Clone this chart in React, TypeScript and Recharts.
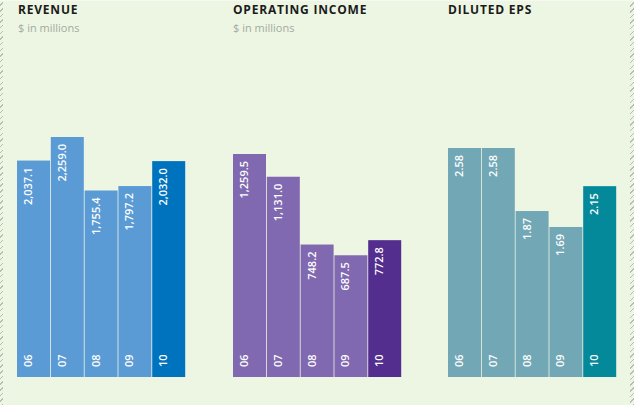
import React from 'react'
import { BarChart, Bar, XAxis, YAxis, Cell, LabelList } from 'recharts'

const years = ['06', '07', '08', '09', '10']
const revenue = [2037.1, 2259.0, 1755.4, 1797.2, 2032.0]
const revenueLabels = ['2,037.1', '2,259.0', '1,755.4', '1,797.2', '2,032.0']
const operatingIncome = [1259.5, 1131.0, 748.2, 687.5, 772.8]
const operatingLabels = ['1,259.5', '1,131.0', '748.2', '687.5', '772.8']
const dilutedEps = [2.58, 2.58, 1.87, 1.69, 2.15]
const epsLabels = ['2.58', '2.58', '1.87', '1.69', '2.15']

const FONT = '"Open Sans", "Noto Sans", sans-serif'

interface PanelProps {
  values: number[]
  labels: string[]
  base: string
  highlight: string
  left: number
  top: number
  height: number
}

function ValueLabel(props: any) {
  const { x, y, value } = props
  const tx = x + 15
  const ty = y + 7
  return (
    <text
      x={tx}
      y={ty}
      transform={`rotate(-90, ${tx}, ${ty})`}
      textAnchor="end"
      fill="#ffffff"
      fontSize={11}
      fontWeight={600}
      fontFamily={FONT}
    >
      {value}
    </text>
  )
}

function YearLabel(props: any) {
  const { x, y, height, value } = props
  const tx = x + 15
  const ty = y + height - 10
  return (
    <text
      x={tx}
      y={ty}
      transform={`rotate(-90, ${tx}, ${ty})`}
      textAnchor="start"
      fill="#ffffff"
      fontSize={11}
      fontWeight={600}
      fontFamily={FONT}
    >
      {value}
    </text>
  )
}

// bar with a 1px gap on its right side, no outline
function GapBar(props: any) {
  const { x, y, width, height, fill } = props
  return <rect x={x} y={y} width={Math.max(width - 1, 0)} height={height} fill={fill} />
}

function Panel({ values, labels, base, highlight, left, top, height }: PanelProps) {
  const data = years.map((year, i) => ({ year, value: values[i], label: labels[i] }))
  return (
    <div style={{ position: 'absolute', left, top }}>
      <BarChart
        width={169}
        height={height}
        data={data}
        margin={{ top: 0, right: 0, bottom: 0, left: 0 }}
        barCategoryGap={0}
      >
        <XAxis dataKey="year" hide />
        <YAxis hide domain={[0, 'dataMax']} />
        <Bar dataKey="value" isAnimationActive={false} shape={GapBar}>
          {data.map((_, i) => (
            <Cell key={`cell-${i}`} fill={i === data.length - 1 ? highlight : base} />
          ))}
          <LabelList dataKey="label" content={ValueLabel} />
          <LabelList dataKey="year" content={YearLabel} />
        </Bar>
      </BarChart>
    </div>
  )
}

const titleStyle: React.CSSProperties = {
  position: 'absolute',
  fontFamily: FONT,
  fontWeight: 700,
  fontSize: 12,
  letterSpacing: 0.8,
  color: '#1b1b1b',
  top: 2,
  lineHeight: '16px',
}

const subStyle: React.CSSProperties = {
  position: 'absolute',
  fontFamily: FONT,
  fontSize: 11,
  color: '#a3aba0',
  top: 20,
  lineHeight: '16px',
}

const hatch = 'repeating-linear-gradient(-45deg, #b9beb5 0px, #b9beb5 1px, transparent 1px, transparent 4px)'

export default function App() {
  return (
    <div
      style={{
        position: 'absolute',
        left: 0,
        top: 0,
        width: 634,
        height: 405,
        background: '#edf5e3',
        overflow: 'hidden',
      }}
    >
      <div style={{ position: 'absolute', left: 0, top: 0, width: 3, height: 405, background: hatch }} />
      <div style={{ position: 'absolute', left: 630, top: 0, width: 4, height: 405, background: hatch }} />
      <div style={{ position: 'absolute', left: 0, top: 0, width: 634, height: 1, background: '#f6f9f1' }} />

      <div style={{ ...titleStyle, left: 18 }}>REVENUE</div>
      <div style={{ ...subStyle, left: 18 }}>$ in millions</div>
      <div style={{ ...titleStyle, left: 233 }}>OPERATING INCOME</div>
      <div style={{ ...subStyle, left: 233 }}>$ in millions</div>
      <div style={{ ...titleStyle, left: 448 }}>DILUTED EPS</div>

      <Panel values={revenue} labels={revenueLabels} base="#5b9bd5" highlight="#0073bf" left={17} top={137} height={240} />
      <Panel values={operatingIncome} labels={operatingLabels} base="#8069b0" highlight="#532e8e" left={233} top={154} height={223} />
      <Panel values={dilutedEps} labels={epsLabels} base="#72a8b5" highlight="#04899a" left={448} top={148} height={229} />
    </div>
  )
}
